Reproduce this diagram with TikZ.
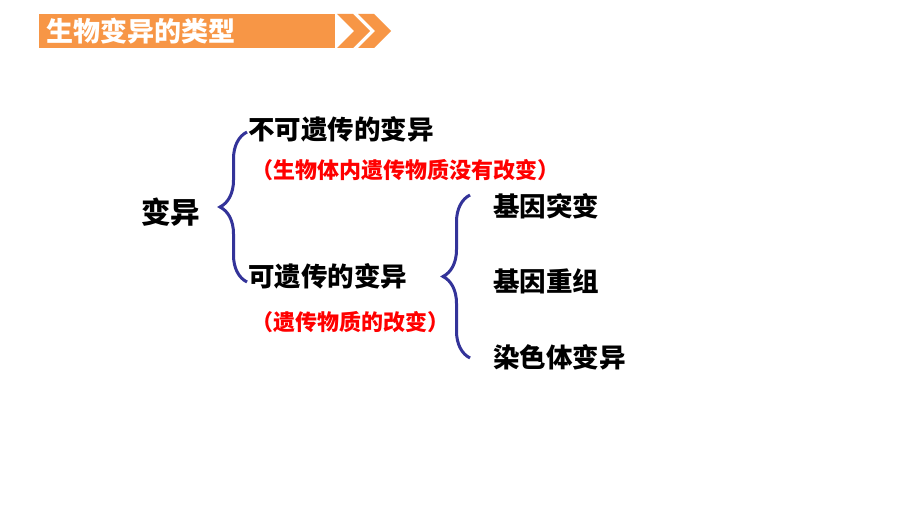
\documentclass[tikz,border=0pt]{standalone}
\usepackage{fontspec}
\newfontfamily\cjk{Noto Sans CJK SC}
\usetikzlibrary{decorations.pathreplacing}
\definecolor{bannerorange}{RGB}{247,150,70}
\definecolor{bracecolor}{RGB}{51,51,153}
\tikzset{
  item/.style={anchor=west,inner sep=0pt,font=\cjk\bfseries\fontsize{26.5}{30}\selectfont},
  note/.style={anchor=west,inner sep=0pt,text=red,font=\cjk\bfseries\fontsize{22}{26}\selectfont},
  bracket/.style={draw=bracecolor,line width=3pt,decorate,decoration={brace,amplitude=27pt,aspect=0.5}},
}
\begin{document}
\begin{tikzpicture}[x=1pt,y=-1pt]
      \useasboundingbox[fill=white] (0,0) rectangle (920,518);
      % banner
      \path[fill=bannerorange] (39,14) rectangle (335,48);
      \path[fill=bannerorange] (337,14) -- (353,14) -- (370,31) -- (353,48) -- (337,48) -- (354,31) -- cycle;
      \path[fill=bannerorange] (358,14) -- (374,14) -- (391,31) -- (374,48) -- (358,48) -- (375,31) -- cycle;
      \node[item,text=white,font=\cjk\bfseries\fontsize{27}{30}\selectfont] (title) at (46,31) {生物变异的类型};
      % variation
      \node[item,font=\cjk\bfseries\fontsize{29.5}{34}\selectfont] (var) at (141,212) {变异};
      \node[item] (nonher) at (248,129) {不可遗传的变异};
      \node[note] (nonhernote) at (251,170) {（生物体内遗传物质没有改变）};
      \node[item] (her) at (248,276) {可遗传的变异};
      \node[note] (hernote) at (251,322) {（遗传物质的改变）};
      \node[item] (mut) at (493,206) {基因突变};
      \node[item] (recomb) at (493,281) {基因重组};
      \node[item] (chrom) at (493,357) {染色体变异};
      % braces
      \coordinate (lt) at (247,132);
      \coordinate (lb) at (247,282);
      \coordinate (rt) at (470,195);
      \coordinate (rb) at (470,358);
      \draw[bracket] (lb) -- (lt);
      \draw[bracket] (rb) -- (rt);
\end{tikzpicture}
\end{document}
